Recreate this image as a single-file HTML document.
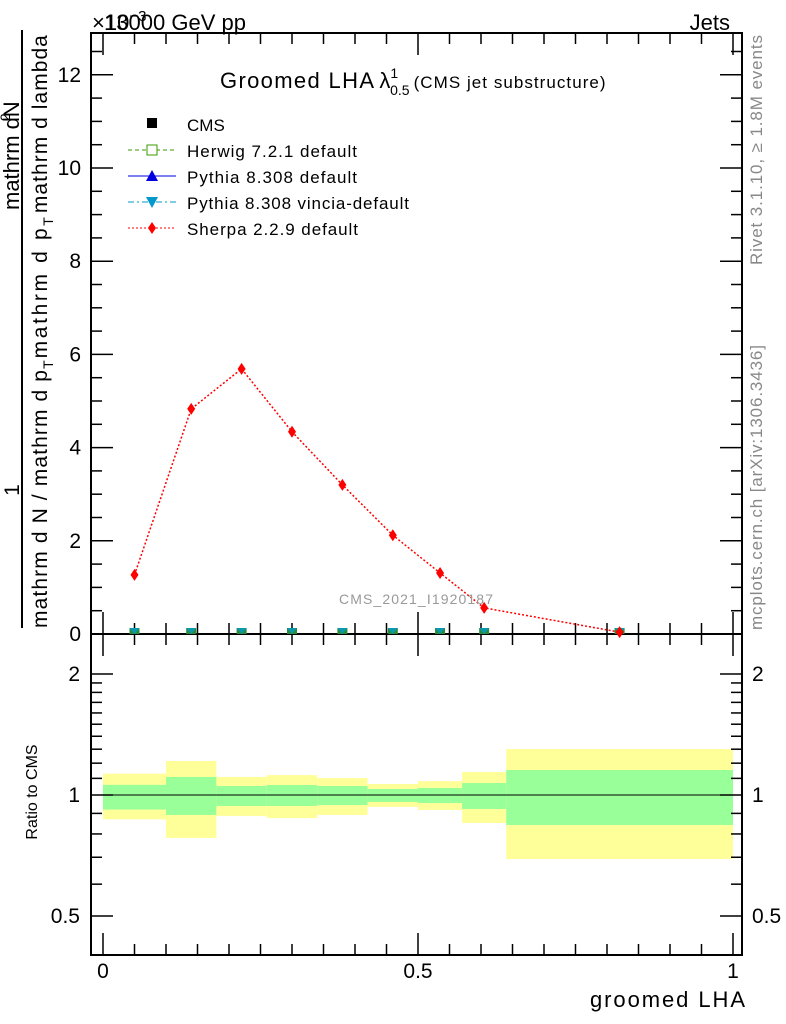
<!DOCTYPE html>
<html><head><meta charset="utf-8"><style>
body{margin:0;background:#fff}
svg{display:block;font-family:"Liberation Sans",sans-serif}
</style></head><body>
<svg id="c" width="786" height="1024" viewBox="0 0 786 1024">
<g id="bands"></g>
<g id="axes"></g>
<g id="marks"></g>
<text x="92" y="30" font-size="22">×10<tspan font-size="15" dy="-9">−3</tspan></text>
<text x="104" y="30" font-size="22" textLength="142">13000 GeV pp</text>
<text x="730" y="30" font-size="22" text-anchor="end">Jets</text>
<text x="220" y="88" font-size="22"><tspan textLength="154">Groomed LHA</tspan><tspan dx="4">λ</tspan><tspan font-size="14" dy="-10">1</tspan><tspan font-size="14" dx="-8" dy="17">0.5</tspan><tspan font-size="17" dx="4" dy="-7" textLength="192">(CMS jet substructure)</tspan></text>
<text x="416" y="604" font-size="14" fill="#999" text-anchor="middle" textLength="154">CMS_2021_I1920187</text>
<line x1="22" y1="30" x2="22" y2="628" stroke="#000" stroke-width="2"/>
<text transform="translate(19,490) rotate(-90)" font-size="21" text-anchor="middle">1</text>
<text transform="translate(19,210) rotate(-90)" font-size="22">mathrm d<tspan font-size="14" dy="-9" dx="-4">2</tspan><tspan dy="9" dx="-4">N</tspan></text>
<text transform="translate(47,628) rotate(-90)" font-size="21"><tspan textLength="258">mathrm d N / mathrm d p</tspan><tspan font-size="14" dy="6">T</tspan><tspan dy="-6" dx="2" textLength="130">mathrm d p</tspan><tspan font-size="14" dy="6">T</tspan><tspan dy="-6" dx="4" textLength="178">mathrm d lambda</tspan></text>
<text transform="translate(37,792) rotate(-90)" font-size="16" text-anchor="middle">Ratio to CMS</text>
<text x="745" y="1007" font-size="22" text-anchor="end" textLength="155">groomed LHA</text>
<text transform="translate(762,265) rotate(-90)" font-size="17" fill="#888" textLength="230">Rivet 3.1.10, ≥ 1.8M events</text>
<text transform="translate(762,630) rotate(-90)" font-size="17" fill="#888" textLength="285">mcplots.cern.ch [arXiv:1306.3436]</text>
<g id="legend">
<rect x="147" y="118" width="10" height="10" fill="#000"/>
<text x="187" y="131" font-size="17">CMS</text>
<line x1="128" y1="150" x2="176" y2="150" stroke="#3a9a00" stroke-dasharray="4,3"/>
<rect x="147" y="145" width="10" height="10" fill="#fff" stroke="#3a9a00"/>
<text x="187" y="157" font-size="17" textLength="170">Herwig 7.2.1 default</text>
<line x1="128" y1="176" x2="176" y2="176" stroke="#0000e0"/>
<polygon points="152,170 158,181 146,181" fill="#0000e0"/>
<text x="187" y="183" font-size="17" textLength="170">Pythia 8.308 default</text>
<line x1="128" y1="202" x2="176" y2="202" stroke="#0099cc" stroke-dasharray="6,3,2,3"/>
<polygon points="146,197 158,197 152,208" fill="#0099cc"/>
<text x="187" y="209" font-size="17" textLength="222">Pythia 8.308 vincia-default</text>
<line x1="128" y1="228" x2="176" y2="228" stroke="#f00" stroke-dasharray="2,2"/>
<polygon points="152,222 156,228 152,234 148,228" fill="#f00"/>
<text x="187" y="235" font-size="17" textLength="171">Sherpa 2.2.9 default</text>
</g>
</svg>
<script>
const binEdges=[0,0.1,0.18,0.26,0.34,0.42,0.5,0.57,0.64,1.0];
const xCenters=[0.05,0.14,0.22,0.30,0.38,0.46,0.535,0.605,0.82];
const sherpaVals=[1.27,4.83,5.69,4.34,3.20,2.12,1.31,0.56,0.04];
const cmsVals=[0,0,0,0,0,0,0,0,0];
const yellowUp=[1.13,1.215,1.109,1.121,1.102,1.065,1.083,1.141,1.301];
const yellowDn=[0.87,0.782,0.887,0.876,0.892,0.934,0.918,0.852,0.693];
const greenUp=[1.06,1.109,1.053,1.059,1.053,1.035,1.041,1.071,1.154];
const greenDn=[0.92,0.892,0.939,0.939,0.944,0.961,0.955,0.923,0.842];
const mainTicks=[0,2,4,6,8,10,12];
const ratioTicks=[0.5,1,2];
const xTicks=[0,0.5,1];

const NS="http://www.w3.org/2000/svg";
const L=91,R=742,T=33,MB=634,RB=955;
const xs=v=>103+630*v;
const ym=v=>634-46.6*v;
const yr=v=>795-121*Math.log2(v);
function mk(tag,attrs,parent){const e=document.createElementNS(NS,tag);for(const k in attrs)e.setAttribute(k,attrs[k]);document.getElementById(parent).appendChild(e);return e;}

for(let i=0;i<xCenters.length;i++){
  let x0=xs(binEdges[i]),x1=xs(binEdges[i+1]);
  let e=mk('rect',{x:x0,y:yr(yellowUp[i]),width:x1-x0,height:yr(yellowDn[i])-yr(yellowUp[i]),fill:'#ffff99'},'bands');
  
  
  e=mk('rect',{x:x0,y:yr(greenUp[i]),width:x1-x0,height:yr(greenDn[i])-yr(greenUp[i]),fill:'#99ff99'},'bands');
  
  
}
let e=mk('line',{x1:xs(0),x2:xs(1),y1:yr(1),y2:yr(1),stroke:'#000','stroke-width':1},'bands');



e=mk('rect',{x:L,y:T,width:R-L,height:MB-T,fill:'none',stroke:'#000','stroke-width':2},'axes');


e=mk('rect',{x:L,y:MB,width:R-L,height:RB-MB,fill:'none',stroke:'#000','stroke-width':2},'axes');



for(let v=0;v<=12.5;v+=0.5){
  const maj=Math.abs(v%2)<1e-6, len=maj?22:11, y=ym(v);
  mk('line',{x1:L,x2:L+len,y1:y,y2:y,stroke:'#000','stroke-width':1.5},'axes');
  mk('line',{x1:R,x2:R-len,y1:y,y2:y,stroke:'#000','stroke-width':1.5},'axes');
}
mainTicks.forEach(v=>{const t=mk('text',{x:81,y:ym(v)+7,'font-size':21,'text-anchor':'end'},'axes');t.textContent=v;

});
[0.4,0.5,0.6,0.7,0.8,0.9,1,1.1,1.2,1.3,1.4,1.5,1.6,1.7,1.8,1.9,2,3].forEach(v=>{
  const y=yr(v); if(y<MB+2||y>RB-2)return; const maj=ratioTicks.includes(v),len=maj?22:11;
  mk('line',{x1:L,x2:L+len,y1:y,y2:y,stroke:'#000','stroke-width':1.5},'axes');
  mk('line',{x1:R,x2:R-len,y1:y,y2:y,stroke:'#000','stroke-width':1.5},'axes');
});
ratioTicks.forEach(v=>{
  let t=mk('text',{x:80,y:yr(v)+7,'font-size':21,'text-anchor':'end'},'axes');t.textContent=v;
  
  
  t=mk('text',{x:752,y:yr(v)+7,'font-size':21},'axes');t.textContent=v;
  
  
});
for(let i=0;i<=20;i++){const v=i*0.05;if(v>1.02)break;const maj=i%10==0,len=maj?22:11,x=xs(v);
  [[MB,MB-len],[MB,MB+len],[T,T+len],[RB,RB-len]].forEach(p=>mk('line',{x1:x,x2:x,y1:p[0],y2:p[1],stroke:'#000','stroke-width':1.5},'axes'));}
xTicks.forEach(v=>{const t=mk('text',{x:xs(v),y:978,'font-size':21,'text-anchor':'middle'},'axes');t.textContent=v;

});

const pts=xCenters.map((x,i)=>xs(x)+','+ym(sherpaVals[i])).join(' ');
e=mk('polyline',{points:pts,fill:'none',stroke:'#f00','stroke-width':1.5,'stroke-dasharray':'2,2'},'marks');


xCenters.forEach((x,i)=>{
  const cx=xs(x),cy=ym(cmsVals[i]);
  let m=mk('rect',{x:cx-5,y:cy-6,width:10,height:6,fill:'#2a8a3a'},'marks');
  
  
  m=mk('polygon',{points:`${cx-5},${cy-6} ${cx+5},${cy-6} ${cx},${cy}`,fill:'#0a9ab0'},'marks');
  
  
  const sy=ym(sherpaVals[i]);
  m=mk('polygon',{points:`${cx},${sy-6} ${cx+4},${sy} ${cx},${sy+6} ${cx-4},${sy}`,fill:'#f00'},'marks');
  
  
});
</script>
</body></html>
